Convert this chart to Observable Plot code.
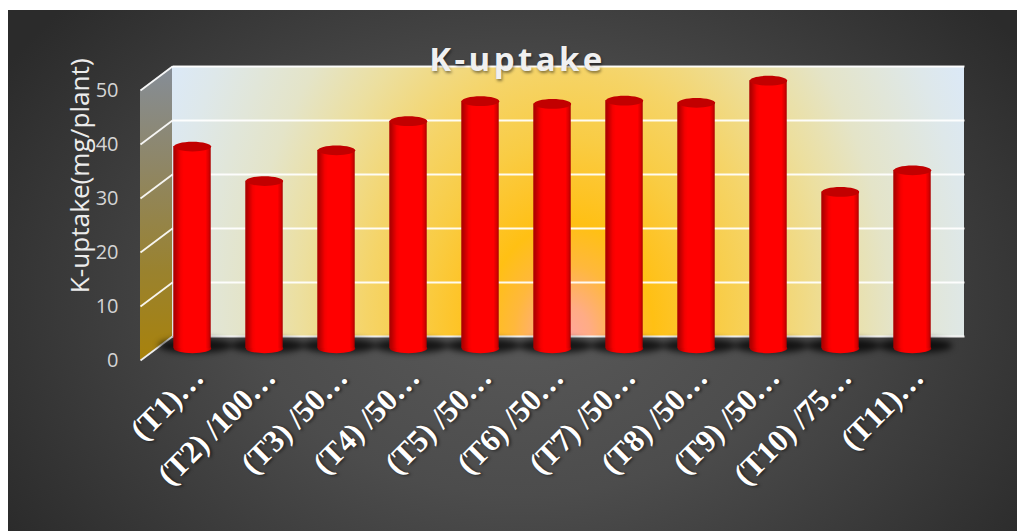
<!DOCTYPE html>
<html>
<head>
<meta charset="utf-8">
<script src="https://cdn.jsdelivr.net/npm/d3@7"></script>
<script src="https://cdn.jsdelivr.net/npm/@observablehq/plot@0.6"></script>
<style>
  html, body { margin: 0; padding: 0; background: #fff; width: 1017px; height: 531px; overflow: hidden; }
  #chart { position: absolute; left: 8px; top: 10px; }
  #chart svg { display: block; }
</style>
</head>
<body>
<div id="chart"></div>
<script>
// K-uptake per treatment, shown as 3-D style cylinders on a floor with two walls.
const treatments = ["(T1)…", "(T2) /100…", "(T3) /50…", "(T4) /50…", "(T5) /50…", "(T6) /50…",
                    "(T7) /50…", "(T8) /50…", "(T9) /50…", "(T10) /75…", "(T11)…"];
const kUptake = [37.4, 31.0, 36.7, 42.1, 45.8, 45.3, 45.9, 45.5, 49.6, 29.0, 33.0];
const yTicks = [0, 10, 20, 30, 40, 50];

// Depth of the box, in data units: how far the back wall sits from the front edge.
const depthX = 0.4444;
const depthY = 4.4444;
const midX = depthX / 2;
const midY = depthY / 2;
const xMax = treatments.length + depthX;
const yMax = 50 + depthY;
const barHalf = 0.26;

const bars = treatments.map((name, i) => ({
  name,
  value: kUptake[i],
  cx: i + 0.5 + midX,
  base: midY,
  top: kUptake[i] + midY
}));

const ellipse = (ratio) => ({
  draw(ctx, size) {
    const rx = Math.sqrt(size / Math.PI), ry = rx * ratio, k = 0.5523;
    ctx.moveTo(-rx, 0);
    ctx.bezierCurveTo(-rx, -ry * k, -rx * k, -ry, 0, -ry);
    ctx.bezierCurveTo(rx * k, -ry, rx, -ry * k, rx, 0);
    ctx.bezierCurveTo(rx, ry * k, rx * k, ry, 0, ry);
    ctx.bezierCurveTo(-rx * k, ry, -rx, ry * k, -rx, 0);
    ctx.closePath();
  }
});

// Paint servers for the walls and the cylinders.
function gradients() {
  const defs = d3.create("svg:defs");
  const addStops = (g, stops) => stops.forEach(([o, c]) =>
    g.append("stop").attr("offset", o).attr("stop-color", c));
  addStops(defs.append("radialGradient").attr("id", "wall")
    .attr("cx", 0).attr("cy", 0).attr("r", 0.568)
    .attr("gradientTransform", "translate(0.5,1) scale(1,3.88)"),
    [[0, "#ffa79c"], [0.05, "#ffac84"], [0.12, "#ffb83c"], [0.19, "#ffc014"], [0.26, "#fdc52c"], [0.33, "#f9cc44"],
     [0.45, "#f5d468"], [0.6, "#ecdf9f"], [0.72, "#e4e4c8"], [0.9, "#dee8ea"], [1, "#dbe9f9"]]);
  addStops(defs.append("linearGradient").attr("id", "side")
    .attr("x1", 0).attr("y1", 0).attr("x2", 0).attr("y2", 1),
    [[0, "#858d98"], [0.35, "#8f8664"], [0.7, "#9a822e"], [1, "#a8820c"]]);
  addStops(defs.append("linearGradient").attr("id", "cyl"),
    [[0, "#a80000"], [0.06, "#b80000"], [0.2, "#f40000"], [0.28, "#ff0000"],
     [0.86, "#ff0000"], [0.95, "#d40000"], [1, "#a80000"]]);
  return defs.node();
}

const styled = (css, spacing = "normal") => function (index, scales, values, dimensions, context, next) {
  const g = next(index, scales, values, dimensions, context);
  g.style.textShadow = css;
  g.style.letterSpacing = spacing;
  return g;
};

const chart = Plot.plot({
  width: 1009,
  height: 521,
  marginLeft: 132,
  marginRight: 53,
  marginTop: 56,
  marginBottom: 171,
  x: { domain: [0, xMax], axis: null },
  y: { domain: [0, yMax], axis: null },
  style: {
    background: "radial-gradient(ellipse 60% 85% at 51% 55%, #5a5a5a 0%, #4c4c4c 45%, #2b2b2b 100%)",
    overflow: "visible"
  },
  marks: [
    gradients,
    // left wall and back wall
    Plot.areaY([0, depthX], {
      x: (d) => d,
      y1: (d) => (d / depthX) * depthY,
      y2: (d) => 50 + (d / depthX) * depthY,
      fill: "url(#side)"
    }),
    Plot.rect([0], {
      x1: () => depthX, x2: () => xMax,
      y1: () => depthY, y2: () => yMax,
      fill: "url(#wall)"
    }),
    // gridlines running along the left wall and across the back
    Plot.link(yTicks, {
      x1: () => 0, x2: () => depthX,
      y1: (d) => d, y2: (d) => d + depthY,
      stroke: "#fff", strokeWidth: 1.8, strokeOpacity: 0.92
    }),
    Plot.link(yTicks, {
      x1: () => depthX, x2: () => xMax,
      y1: (d) => d + depthY, y2: (d) => d + depthY,
      stroke: "#fff", strokeWidth: 2, strokeOpacity: 0.92
    }),
    // soft shadows on the floor
    Plot.dot(bars, {
      x: "cx", y: () => midY + 0.55, r: 37,
      symbol: ellipse(0.2), fill: "#000", fillOpacity: 0.75,
      dx: 3, imageFilter: "blur(3px)"
    }),
    // cylinders: bottom cap, body, top cap
    Plot.dot(bars, { x: "cx", y: "base", r: 18.7, symbol: ellipse(0.25), fill: "url(#cyl)" }),
    Plot.rect(bars, {
      x1: (d) => d.cx - barHalf, x2: (d) => d.cx + barHalf,
      y1: "base", y2: "top",
      fill: "url(#cyl)"
    }),
    Plot.dot(bars, { x: "cx", y: "top", r: 18.7, symbol: ellipse(0.26), fill: "#c20000" }),
    // tick labels
    Plot.text(yTicks, {
      x: () => 0, y: (d) => d, text: (d) => String(d),
      textAnchor: "end", dx: -22,
      fontFamily: "Open Sans", fontSize: 20, fill: "#d4d4d4"
    }),
    Plot.text(bars, {
      x: "cx", y: () => 0, text: "name",
      textAnchor: "end", rotate: -45, dx: 6, dy: 12,
      fontFamily: "Liberation Serif", fontWeight: "bold", fontSize: 31.2, fill: "#fff",
      render: styled("1px 2px 3px rgba(0,0,0,.55)")
    }),
    // axis title and chart title
    Plot.text(["K-uptake(mg/plant)"], {
      x: () => 0, y: () => 34.2, text: (d) => d,
      rotate: -90, dx: -60,
      fontFamily: "Open Sans", fontSize: 26.2, fill: "#ececec"
    }),
    Plot.text(["K-uptake"], {
      x: () => 5.236, y: () => 55.5, text: (d) => d,
      fontFamily: "Open Sans", fontWeight: "bold", fontSize: 33, fill: "#f0f0f0",
      render: styled("1px 2px 3px rgba(0,0,0,.45)", "3.4px")
    })
  ]
});
document.getElementById("chart").append(chart);
</script>
</body>
</html>
